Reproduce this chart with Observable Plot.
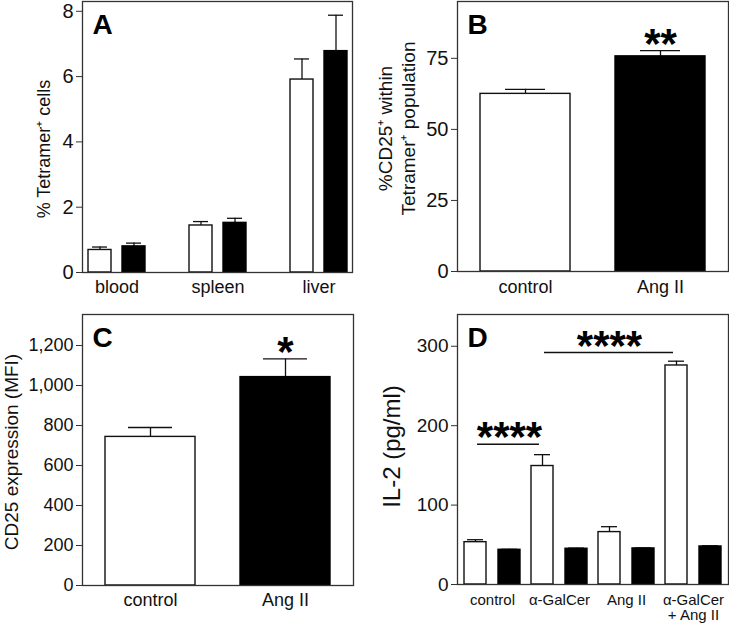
<!DOCTYPE html>
<html><head><meta charset="utf-8">
<script src="https://cdn.jsdelivr.net/npm/d3@7"></script>
<script src="https://cdn.jsdelivr.net/npm/@observablehq/plot@0.6"></script>
<style>
body{margin:0;background:#fff;}
#fig{position:relative;width:729px;height:623px;overflow:hidden;font-family:"Liberation Sans",Arial,sans-serif;background:#fff;}
.p{position:absolute;}
.p svg{overflow:visible;background:transparent;}
</style></head><body><div id="fig"></div>
<script>
// ---------- data ----------
// Panel A
const groupsA = ["blood", "spleen", "liver"];
const openA = [0.69, 1.44, 5.91];
const openA_err = [0.09, 0.12, 0.63];
const filledA = [0.80, 1.52, 6.78];
const filledA_err = [0.10, 0.14, 1.10];
const ticksA = [0, 2, 4, 6, 8];
// Panel B
const groupsB = ["control", "Ang II"];
const valuesB = [62.5, 75.7];
const errB = [1.6, 2.0];
const ticksB = [0, 25, 50, 75];
const starsB = [{group: "Ang II", y: 77.7, text: "**"}];
// Panel C
const groupsC = ["control", "Ang II"];
const valuesC = [743, 1042];
const errC = [47, 91];
const ticksC = [0, 200, 400, 600, 800, 1000, 1200];
const starsC = [{group: "Ang II", y: 1133, text: "*"}];
// Panel D
const groupsD = ["control", "α-GalCer", "Ang II", "α-GalCer\n+ Ang II"];
const openD = [53.3, 149.2, 66.0, 275.8];
const openD_err = [3.1, 14.3, 6.8, 5.4];
const filledD = [43.7, 45.0, 45.4, 47.9];
const filledD_err = [0.6, 0.8, 0.6, 0.8];
const ticksD = [0, 100, 200, 300];
const sigD = [
  {from: "control", to: "α-GalCer", y: 176.5, text: "****"},
  {from: "α-GalCer", to: "α-GalCer\n+ Ang II", y: 292, text: "****"}
];

// ---------- helpers ----------
const INK = "#111";
const FRAME = "#333";
const FONT = "'Liberation Sans', Arial, sans-serif";
const STAR = {fontSize: 42, fontWeight: "bold", lineAnchor: "bottom", dy: 7, fill: "#000"};
const fig = document.getElementById("fig");
function place(svg, left, top) {
  const d = document.createElement("div");
  d.className = "p";
  d.style.left = left + "px";
  d.style.top = top + "px";
  d.appendChild(svg);
  fig.appendChild(d);
}
const rows = (groups, vals, errs) => groups.map((g, i) => ({group: g, value: vals[i], top: vals[i] + errs[i]}));
const letter = (L) => Plot.text([L], {frameAnchor: "top-left", text: d => d, dx: 10, dy: 13, fontSize: 28, fontWeight: "bold", lineAnchor: "top", textAnchor: "start", fill: "#000"});
const ylabel = (t, o) => Plot.text([t], {frameAnchor: "left", text: d => d, rotate: -90, textAnchor: "middle", lineAnchor: "middle", fill: "#111", ...o});

// ---------- Panel A ----------
const A_open = rows(groupsA, openA, openA_err);
const A_filled = rows(groupsA, filledA, filledA_err);
place(Plot.plot({
  width: 365, height: 300,
  marginTop: 1, marginRight: 13, marginBottom: 28, marginLeft: 82,
  style: {fontFamily: FONT, color: INK, background: "transparent"},
  x: {domain: groupsA, paddingInner: 0.44, paddingOuter: 0.044},
  y: {domain: [0, 8.3]},
  marks: [
    Plot.ruleX(A_open, {x: "group", y1: "value", y2: "top", dx: -17, stroke: INK, strokeWidth: 1.3}),
    Plot.ruleX(A_filled, {x: "group", y1: "value", y2: "top", dx: 17, stroke: INK, strokeWidth: 1.3}),
    Plot.tickY(A_open, {x: "group", y: "top", insetLeft: 4, insetRight: 38, stroke: INK, strokeWidth: 1.3}),
    Plot.tickY(A_filled, {x: "group", y: "top", insetLeft: 38, insetRight: 4, stroke: INK, strokeWidth: 1.3}),
    Plot.barY(A_open, {x: "group", y: "value", insetRight: 34, fill: "#fff", stroke: INK, strokeWidth: 1.4}),
    Plot.barY(A_filled, {x: "group", y: "value", insetLeft: 34, fill: "#000", stroke: "#000", strokeWidth: 1.4}),
    Plot.frame({stroke: FRAME, strokeWidth: 1.3}),
    Plot.axisY({ticks: ticksA, tickSize: 6, tickPadding: 3, fontSize: 20, label: null, stroke: FRAME}),
    Plot.axisX({tickSize: 0, tickPadding: 8, fontSize: 18, label: null}),
    ylabel("% Tetramer⁺ cells", {dx: -38, dy: 12, fontSize: 18}),
    letter("A")
  ]
}), 0, 0);

// ---------- Panel B ----------
const B = rows(groupsB, valuesB, errB);
place(Plot.plot({
  width: 364, height: 300,
  marginTop: 1, marginRight: 1, marginBottom: 29, marginLeft: 92,
  style: {fontFamily: FONT, color: INK, background: "transparent"},
  x: {domain: groupsB, paddingInner: 1/3, paddingOuter: 1/6},
  y: {domain: [0, 95]},
  marks: [
    Plot.ruleX(B, {x: "group", y1: "value", y2: "top", stroke: INK, strokeWidth: 1.3}),
    Plot.tickY(B, {x: "group", y: "top", insetLeft: 25, insetRight: 25, stroke: INK, strokeWidth: 1.3}),
    Plot.barY(B.filter(d => d.group === "control"), {x: "group", y: "value", fill: "#fff", stroke: INK, strokeWidth: 1.4}),
    Plot.barY(B.filter(d => d.group !== "control"), {x: "group", y: "value", fill: "#000", stroke: "#000", strokeWidth: 1.4}),
    Plot.text(starsB, {x: "group", y: "y", text: "text", ...STAR}),
    Plot.frame({stroke: FRAME, strokeWidth: 1.3}),
    Plot.axisY({ticks: ticksB, tickSize: 6, tickPadding: 3, fontSize: 20, label: null, stroke: FRAME}),
    Plot.axisX({tickSize: 0, tickPadding: 9, fontSize: 18, label: null}),
    ylabel("%CD25⁺ within\nTetramer⁺ population", {dx: -61, dy: -8, fontSize: 19, lineHeight: 1.2}),
    letter("B")
  ]
}), 365, 0);

// ---------- Panel C ----------
const C = rows(groupsC, valuesC, errC);
place(Plot.plot({
  width: 365, height: 323,
  marginTop: 14, marginRight: 12, marginBottom: 38, marginLeft: 82,
  style: {fontFamily: FONT, color: INK, background: "transparent"},
  x: {domain: groupsC, paddingInner: 1/3, paddingOuter: 1/6},
  y: {domain: [0, 1355]},
  marks: [
    Plot.ruleX(C, {x: "group", y1: "value", y2: "top", stroke: INK, strokeWidth: 1.3}),
    Plot.tickY(C, {x: "group", y: "top", insetLeft: 23, insetRight: 23, stroke: INK, strokeWidth: 1.3}),
    Plot.barY(C.filter(d => d.group === "control"), {x: "group", y: "value", fill: "#fff", stroke: INK, strokeWidth: 1.4}),
    Plot.barY(C.filter(d => d.group !== "control"), {x: "group", y: "value", fill: "#000", stroke: "#000", strokeWidth: 1.4}),
    Plot.text(starsC, {x: "group", y: "y", text: "text", ...STAR}),
    Plot.frame({stroke: FRAME, strokeWidth: 1.3}),
    Plot.axisY({ticks: ticksC, tickFormat: d3.format(","), tickSize: 6, tickPadding: 3, fontSize: 18, label: null, stroke: FRAME}),
    Plot.axisX({tickSize: 0, tickPadding: 8, fontSize: 18, label: null}),
    ylabel("CD25 expression (MFI)", {dx: -71, dy: 2, fontSize: 19}),
    letter("C")
  ]
}), 0, 300);

// ---------- Panel D ----------
const D_open = rows(groupsD, openD, openD_err);
const D_filled = rows(groupsD, filledD, filledD_err);
place(Plot.plot({
  width: 364, height: 323,
  marginTop: 14, marginRight: 1, marginBottom: 39, marginLeft: 92,
  style: {fontFamily: FONT, color: INK, background: "transparent"},
  x: {domain: groupsD, paddingInner: 0.158, paddingOuter: 0.08},
  y: {domain: [0, 340]},
  marks: [
    Plot.ruleX(D_open, {x: "group", y1: "value", y2: "top", dx: -17, stroke: INK, strokeWidth: 1.3}),
    Plot.ruleX(D_filled, {x: "group", y1: "value", y2: "top", dx: 17, stroke: INK, strokeWidth: 1.3}),
    Plot.tickY(D_open, {x: "group", y: "top", insetLeft: 3, insetRight: 37, stroke: INK, strokeWidth: 1.3}),
    Plot.tickY(D_filled, {x: "group", y: "top", insetLeft: 37, insetRight: 3, stroke: INK, strokeWidth: 1.3}),
    Plot.barY(D_open, {x: "group", y: "value", insetRight: 34, fill: "#fff", stroke: INK, strokeWidth: 1.4}),
    Plot.barY(D_filled, {x: "group", y: "value", insetLeft: 34, fill: "#000", stroke: "#000", strokeWidth: 1.4}),
    Plot.ruleY(sigD, {x1: "from", x2: "to", y: "y", insetLeft: 13, insetRight: 48, stroke: INK, strokeWidth: 1.5}),
    Plot.text(sigD.slice(0, 1), {x: "from", y: "y", text: "text", dx: 17, ...STAR}),
    Plot.text(sigD.slice(1), {x: "from", y: "y", text: "text", dx: 50, ...STAR}),
    Plot.frame({stroke: FRAME, strokeWidth: 1.3}),
    Plot.axisY({ticks: ticksD, tickSize: 6, tickPadding: 3, fontSize: 19, label: null, stroke: FRAME}),
    Plot.axisX({tickSize: 0, tickPadding: 9, fontSize: 15, label: null, lineHeight: 1.04}),
    ylabel("IL-2 (pg/ml)", {dx: -65, dy: -3, fontSize: 24}),
    letter("D")
  ]
}), 365, 300);
</script></body></html>
